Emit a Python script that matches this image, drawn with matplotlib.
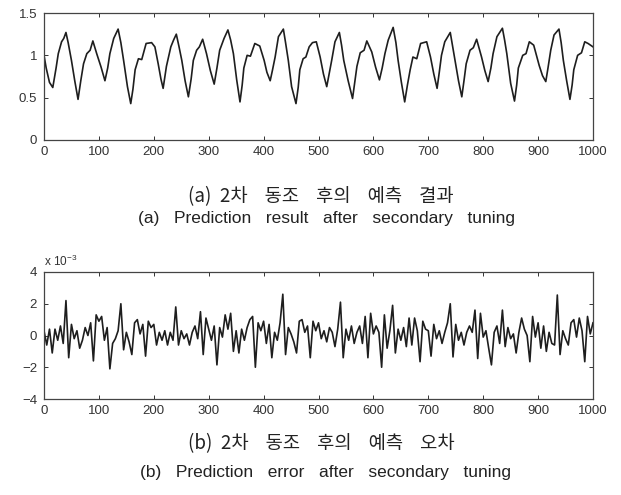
import numpy as np
import matplotlib
matplotlib.use("Agg")
import matplotlib.pyplot as plt

# ---- data ----
pred_t = [0, 4, 10, 16, 22, 26, 32, 36, 40, 44, 50, 56, 62, 67, 72, 78, 84, 89, 96, 104,
          111, 116, 120, 127, 135, 140, 145, 152, 158, 162, 166, 172, 178, 186, 196, 202, 208,
          213, 217, 223, 231, 236, 241, 246, 251, 257, 263, 268, 272, 278, 283, 289, 296, 303,
          310, 315, 320, 328, 335, 340, 345, 351, 357, 361, 364, 370, 376, 384, 393, 401, 406,
          412, 416, 421, 427, 436, 440, 445, 451, 459, 463, 466, 472, 477, 483, 489, 496, 503,
          509, 515, 520, 524, 530, 538, 542, 546, 554, 562, 566, 570, 576, 583, 588, 597, 604,
          611, 616, 621, 627, 636, 641, 645, 651, 657, 662, 667, 672, 679, 686, 697, 704, 710,
          716, 720, 724, 730, 740, 744, 749, 755, 761, 765, 769, 776, 782, 788, 797, 803, 809,
          814, 818, 825, 835, 839, 843, 850, 857, 861, 864, 872, 878, 884, 892, 902, 908, 914,
          918, 923, 929, 938, 942, 946, 952, 958, 962, 965, 972, 979, 985, 991, 1000]
pred_y = [1.00, 0.85, 0.68, 0.62, 0.85, 1.02, 1.16, 1.20, 1.27, 1.15, 0.94, 0.70, 0.48, 0.70,
          0.90, 1.02, 1.06, 1.17, 1.02, 0.86, 0.70, 0.85, 1.02, 1.20, 1.31, 1.15, 0.94, 0.63,
          0.43, 0.60, 0.83, 0.96, 0.95, 1.14, 1.15, 1.10, 0.90, 0.72, 0.61, 0.87, 1.10, 1.18,
          1.25, 1.10, 0.94, 0.70, 0.51, 0.72, 0.94, 1.06, 1.10, 1.19, 1.02, 0.82, 0.66, 0.85,
          1.06, 1.20, 1.30, 1.18, 1.02, 0.71, 0.45, 0.65, 0.85, 1.00, 0.99, 1.14, 1.11, 0.94,
          0.80, 0.70, 0.82, 0.98, 1.22, 1.31, 1.15, 0.94, 0.63, 0.43, 0.62, 0.83, 0.96, 0.98,
          1.10, 1.15, 1.16, 0.98, 0.78, 0.63, 0.80, 0.94, 1.16, 1.27, 1.12, 0.94, 0.70, 0.49,
          0.68, 0.87, 1.03, 1.06, 1.17, 1.04, 0.86, 0.71, 0.85, 1.02, 1.18, 1.33, 1.15, 0.94,
          0.68, 0.45, 0.65, 0.83, 0.98, 0.96, 1.14, 1.16, 0.98, 0.78, 0.61, 0.80, 1.00, 1.16,
          1.27, 1.12, 0.94, 0.70, 0.51, 0.70, 0.90, 1.06, 1.09, 1.19, 0.98, 0.82, 0.69, 0.85,
          1.02, 1.22, 1.32, 1.18, 1.02, 0.67, 0.46, 0.65, 0.85, 1.00, 1.02, 1.16, 1.12, 0.88,
          0.76, 0.69, 0.85, 1.06, 1.24, 1.31, 1.15, 0.94, 0.70, 0.48, 0.65, 0.83, 1.00, 1.03,
          1.16, 1.14, 1.10]

# prediction error (x 1e-3), sampled every 5 steps from t=0 to t=1000
err_vals = [0.3, -0.6, 0.4, -1.1, 0.4, -0.3, 0.6, -0.5, 2.2, -1.4,
            0.7, -0.2, 0.3, -0.8, -0.3, 0.5, 0.0, 0.8, -1.6, 1.3,
            0.9, 1.2, -0.3, 0.5, -2.1, -0.5, -0.2, 0.3, 2.0, -0.9,
            0.2, -0.4, -1.2, 0.8, 1.0, 0.1, 0.7, -1.3, 0.9, 0.5,
            0.7, -0.6, 0.2, -0.3, 0.3, -0.6, 0.2, -0.3, 1.8, -0.6,
            0.3, -0.2, 0.1, -0.6, 0.2, 0.6, -0.2, 1.5, -1.2, 1.1,
            0.4, -0.3, 0.6, -1.85, 0.5, -0.1, 1.3, 0.4, 1.4, -1.0,
            0.3, -1.1, 0.4, -0.3, 0.5, 1.0, 1.2, -2.0, 0.8, 0.3,
            0.9, -0.5, 0.7, -1.4, 0.2, -0.3, 0.8, 2.6, -1.2, 0.5,
            0.1, -0.4, -1.1, 0.9, 1.0, 0.2, 0.6, -1.4, 0.9, 0.3,
            0.8, -0.2, 0.3, -0.4, 0.5, 0.2, -0.7, 0.4, 2.1, -1.4,
            0.4, -0.3, 0.6, -0.5, 0.2, 0.6, -0.5, 1.2, -1.4, 1.4,
            0.1, 0.6, 0.2, -2.0, 1.3, -0.8, 0.3, 1.9, -1.1, 0.4,
            -0.3, 0.5, -0.7, 1.1, -0.6, 1.1, 0.3, -1.65, 0.9, 0.4,
            0.3, -1.3, 0.7, -0.2, 0.3, -0.5, 0.2, 0.8, 2.0, -1.35,
            0.7, -0.3, 0.2, -0.6, 0.2, 0.6, 0.2, 1.6, -1.45, 1.4,
            -0.1, 0.3, -0.8, -1.85, 0.2, 0.6, -0.5, 1.6, -0.7, 0.5,
            -0.2, 0.1, -1.1, 0.2, 1.1, 0.4, 0.0, -1.65, 1.2, -0.1,
            0.8, -0.8, 0.6, -1.0, 0.2, -0.5, -0.6, 2.55, -1.2, 0.3,
            -0.2, -0.6, 0.8, 1.0, -0.1, 1.1, 0.3, -1.65, 1.2, 0.1,
            0.8]

x_ticks = [0, 100, 200, 300, 400, 500, 600, 700, 800, 900, 1000]
y_ticks_a = [0, 0.5, 1, 1.5]
y_labels_a = ["0", "0.5", "1", "1.5"]
y_ticks_b = [-4, -2, 0, 2, 4]

cap_a_kr = "(a)  2차    동조    후의    예측    결과"
cap_a_en = "(a)   Prediction   result   after   secondary   tuning"
cap_b_kr = "(b)  2차    동조    후의    예측    오차"
cap_b_en = "(b)   Prediction   error   after   secondary   tuning"

# ---- drawing ----
plt.rcParams['font.family'] = ['Liberation Sans', 'Noto Sans CJK KR', 'DejaVu Sans']
W, H = 621, 495
fig = plt.figure(figsize=(W / 100, H / 100), dpi=100)

def ax_rect(l, t, r, b):
    return [l / W, 1 - b / H, (r - l) / W, (b - t) / H]

line_col = '#1e1e1e'
tick_col = '#333333'

def style(ax):
    ax.set_xlim(0, 1000)
    ax.set_xticks(x_ticks)
    ax.tick_params(direction='in', top=True, right=True, length=3, width=0.7,
                   labelsize=9.5, colors=tick_col)
    ax.tick_params(axis='x', pad=4)
    ax.tick_params(axis='y', pad=5)
    for s in ax.spines.values():
        s.set_linewidth(0.9)
        s.set_color('#444444')

ax1 = fig.add_axes(ax_rect(44, 13, 593, 140))
ax1.plot(pred_t, pred_y, color=line_col, lw=1.2)
style(ax1)
ax1.set_ylim(0, 1.5)
ax1.set_yticks(y_ticks_a)
ax1.set_yticklabels(y_labels_a)

err_t = np.linspace(0, 1000, len(err_vals))
ax2 = fig.add_axes(ax_rect(44, 272, 593, 399))
ax2.plot(err_t, err_vals, color=line_col, lw=1.2)
style(ax2)
ax2.set_ylim(-4, 4)
ax2.set_yticks(y_ticks_b)
ax2.text(0.0, 1.02, r"x 10$^{\mathregular{-3}}$", transform=ax2.transAxes,
         fontsize=8.5, color=tick_col, ha='left', va='bottom')

kw = dict(ha='center', va='center', color='#222222')
fig.text(321 / W, 1 - 197 / H, cap_a_kr, fontsize=13.5, family=['Noto Sans CJK KR'], **kw)
fig.text(326 / W, 1 - 219 / H, cap_a_en, fontsize=12.5, **kw)
fig.text(321 / W, 1 - 444 / H, cap_b_kr, fontsize=13.5, family=['Noto Sans CJK KR'], **kw)
fig.text(326 / W, 1 - 473 / H, cap_b_en, fontsize=12.5, **kw)

fig.savefig("out.png", dpi=100)
